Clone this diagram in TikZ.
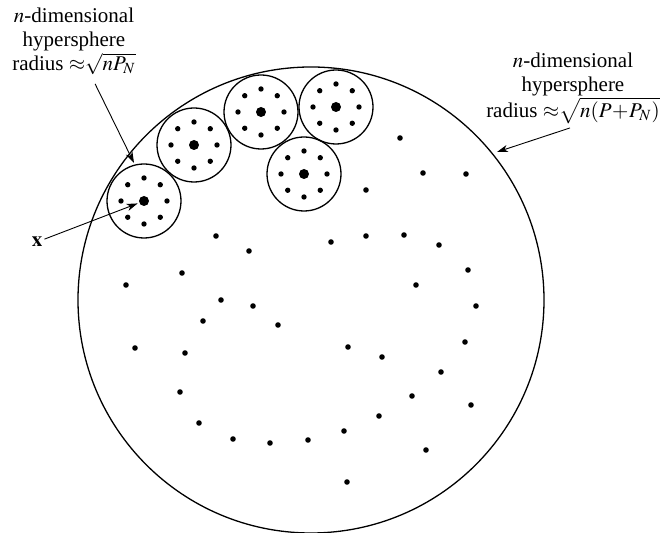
\documentclass[tikz,border=0pt]{standalone}
\usepackage{mathptmx}
\usepackage[no-math]{fontspec}
\setmainfont{Liberation Serif}
\usetikzlibrary{arrows.meta}

\tikzset{
  sphere/.style={line width=0.65pt},
  pointer/.style={->,line width=0.45pt},
  lbl/.style={align=center,inner sep=0pt,font=\fontsize{10.5}{12}\selectfont}
}

\begin{document}
\begin{tikzpicture}[x=0.5pt,y=-0.5pt,>={Stealth[length=5.5pt,width=3.6pt,inset=1.6pt]}]
      \useasboundingbox (0,0) rectangle (660,533);
      % outer hypersphere
      \coordinate (O) at (311,300);
      \draw[sphere] (O) circle (233);
      % noise spheres round the codewords
      \foreach \name/\x/\y in {c1/144/201,c2/194/145,c3/261/112,c4/336/107,c5/304/174}{
        \coordinate (\name) at (\x,\y);
        \draw[sphere] (\name) circle (37);
        \fill (\name) circle (5);
        \foreach \a in {0,45,...,315}
          \fill (\name) ++(\a:23) circle (2.7);
      }
      % remaining codewords
      \foreach \p in {(400,138),(366,190),(423,173),(466,174),(216,236),(249,251),
        (331,242),(366,236),(404,235),(439,245),(468,270),(416,285),(476,306),
        (126,285),(182,273),(221,300),(253,306),(203,321),(278,325),(135,348),
        (185,353),(348,347),(382,357),(465,342),(441,372),(412,396),(471,405),
        (180,392),(199,423),(233,439),(270,443),(308,440),(344,431),(379,416),
        (426,450),(347,482)}
        \fill \p circle (2.8);
      % labels
      \node[lbl] (rsmall) at (74,41) {$n$-dimensional\\hypersphere\\radius $\mathord{\approx}\sqrt{nP_N}$};
      \node[lbl] (rbig) at (573,88) {$n$-dimensional\\hypersphere\\radius $\mathord{\approx}\sqrt{n(P\!+\!P_N)}$};
      \node[lbl] (xlbl) at (37,242) {$\mathbf{x}$};
      \coordinate (tipS) at (134,163);
      \coordinate (tipB) at (497,152);
      \draw[pointer,shorten <=5pt] (rsmall) -- (tipS);
      \draw[pointer] ([xshift=-1.5pt,yshift=-2pt]rbig.south) -- (tipB);
      \draw[pointer,shorten <=1pt,shorten >=3.4pt] (xlbl) -- (c1);
    \end{tikzpicture}
\end{document}
